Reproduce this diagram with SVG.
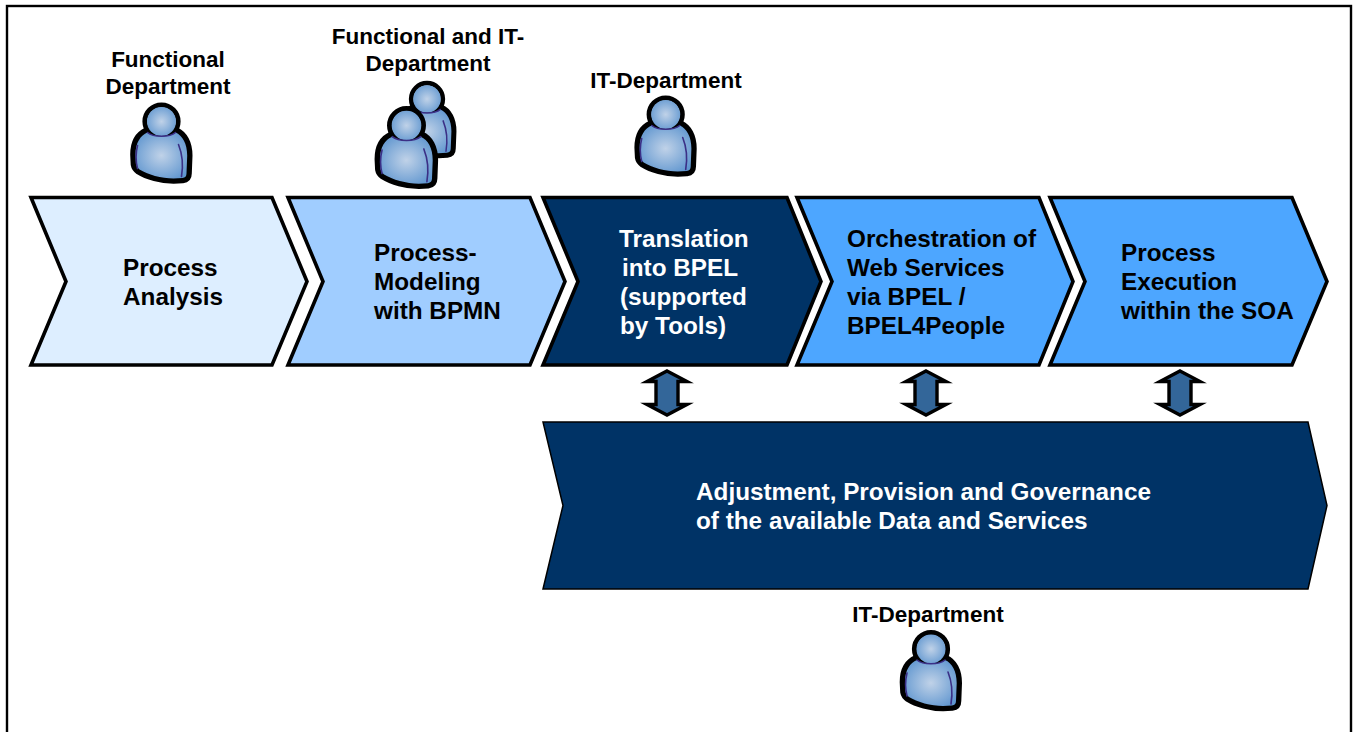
<svg xmlns="http://www.w3.org/2000/svg" xmlns:xlink="http://www.w3.org/1999/xlink" width="1353" height="732" viewBox="0 0 1353 732">
<style>
text{font-family:"Liberation Sans",Arial,sans-serif;font-weight:bold}
.t{font-size:24.3px;fill:#000}
.w{font-size:24.3px;fill:#fff}
.l{font-size:22.5px;fill:#000;text-anchor:middle}
.c{stroke:#000;stroke-width:3.6;stroke-linejoin:miter}
.a{fill:#336699;stroke:#000;stroke-width:3.4;stroke-linejoin:miter;stroke-miterlimit:20}
.o{fill:none;stroke:#000;stroke-width:10.6;stroke-linejoin:round}
.f{fill:url(#g);stroke:none}
.d{fill:none;stroke:#3b2f86;stroke-width:1.6;stroke-linecap:round}
</style>
<defs>
<radialGradient id="g" cx="50%" cy="50%" r="62%"><stop offset="0" stop-color="#c0d2e8"/><stop offset="1" stop-color="#5e95cf"/></radialGradient>
<path id="b" d="M-14,11 C-21,14 -26,21 -26,33 L-25.5,43 Q-25,46 -22,48 C-14,53 0,57 12,57 L21,56.5 Q25,56 25,52 L25.7,34 C25.7,22 21,14 14,11 C8,16 -8,16 -14,11 Z"/>
<g id="person">
<use href="#b" xlink:href="#b" class="o"/>
<circle cx="0" cy="0" r="16.6" fill="none" stroke="#000" stroke-width="5"/>
<circle cx="0" cy="0" r="14.5" class="f"/>
<use href="#b" xlink:href="#b" class="f"/>
<path class="d" d="M-14,11 C-8,16 8,16 14,11"/>
<path class="d" d="M-24,24 C-26,32 -26,39 -24,47"/>
<path class="d" d="M17,23 C21,33 22,43 20,55"/>
</g>
</defs>
<rect x="7" y="6" width="1344" height="740" fill="#fff" stroke="#000" stroke-width="2.4"/>
<g id="connectors">
<path class="a" d="M667,371 L687,381.5 L678,381.5 L678,404.5 L687,404.5 L667,415 L647,404.5 L656,404.5 L656,381.5 L647,381.5 Z"/>
<path class="a" d="M926,371 L946,381.5 L937,381.5 L937,404.5 L946,404.5 L926,415 L906,404.5 L915,404.5 L915,381.5 L906,381.5 Z"/>
<path class="a" d="M1180,371 L1200,381.5 L1191,381.5 L1191,404.5 L1200,404.5 L1180,415 L1160,404.5 L1169,404.5 L1169,381.5 L1160,381.5 Z"/>
</g>
<g id="node-analysis">
<path class="c" fill="#ddeeff" d="M31,197.5 L272,197.5 L307,281.5 L272,365 L31,365 L66,281.5 Z"/>
<text class="t" x="123" y="276">Process</text><text class="t" x="123" y="305">Analysis</text>
</g>
<g id="node-modeling">
<path class="c" fill="#a0cdff" d="M288,197.5 L530,197.5 L565,281.5 L530,365 L288,365 L323,281.5 Z"/>
<text class="t" x="374" y="261">Process-</text><text class="t" x="374" y="290">Modeling</text><text class="t" x="374" y="319">with BPMN</text>
</g>
<g id="node-translation">
<path class="c" fill="#003366" d="M543,197.5 L787,197.5 L821,281.5 L787,365 L543,365 L578,281.5 Z"/>
<text class="w" x="619" y="247">Translation</text><text class="w" x="622" y="276">into BPEL</text><text class="w" x="620" y="305">(supported</text><text class="w" x="620" y="334">by Tools)</text>
</g>
<g id="node-orchestration">
<path class="c" fill="#4da6ff" d="M797,197.5 L1039,197.5 L1073,281.5 L1039,365 L797,365 L832,281.5 Z"/>
<text class="t" x="847" y="247">Orchestration of</text><text class="t" x="847" y="276">Web Services</text><text class="t" x="847" y="305">via BPEL /</text><text class="t" x="847" y="334">BPEL4People</text>
</g>
<g id="node-execution">
<path class="c" fill="#4da6ff" d="M1050,197.5 L1292,197.5 L1327,281.5 L1292,365 L1050,365 L1085,281.5 Z"/>
<text class="t" x="1121" y="261">Process</text><text class="t" x="1121" y="290">Execution</text><text class="t" x="1121" y="319">within the SOA</text>
</g>
<g id="node-governance">
<path fill="#003366" stroke="#000" stroke-width="1.5" d="M543,422 L1308,422 L1327,505.5 L1308,589 L543,589 L563,505.5 Z"/>
<text class="w" x="696" y="500">Adjustment, Provision and Governance</text><text class="w" x="696" y="529">of the available Data and Services</text>
</g>
<g id="role-functional">
<text class="l" x="168" y="67">Functional</text><text class="l" x="168" y="94">Department</text>
<use xlink:href="#person" href="#person" transform="translate(161.5,121.5)"/>
</g>
<g id="role-functional-it">
<text class="l" x="428" y="44">Functional and IT-</text><text class="l" x="428" y="71">Department</text>
<use xlink:href="#person" href="#person" transform="translate(427,99) scale(.95)"/>
<use xlink:href="#person" href="#person" transform="translate(406.5,125.5) scale(1.02)"/>
</g>
<g id="role-it-top">
<text class="l" x="666" y="88">IT-Department</text>
<use xlink:href="#person" href="#person" transform="translate(665.7,114.5)"/>
</g>
<g id="role-it-bottom">
<text class="l" x="928" y="622">IT-Department</text>
<use xlink:href="#person" href="#person" transform="translate(931,649)"/>
</g>
</svg>
